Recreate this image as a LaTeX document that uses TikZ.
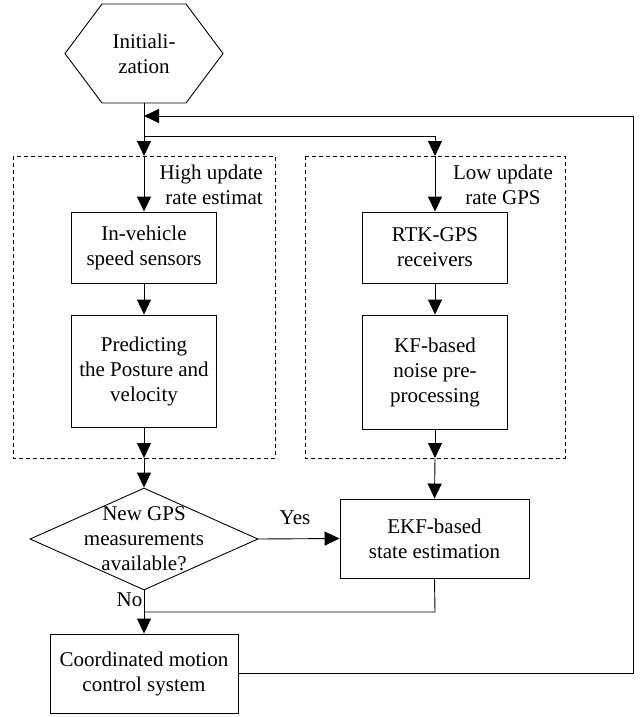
\documentclass[tikz,border=0pt]{standalone}
\usepackage{fontspec}
\setmainfont{Liberation Serif}
\usetikzlibrary{arrows.meta,shapes.geometric}
\begin{document}
\begin{tikzpicture}[x=1pt,y=-1pt,
  every node/.style={font=\fontsize{21}{25}\selectfont, inner sep=0pt, align=center},
  ln/.style={line width=0.9pt},
  box/.style={draw, ln, minimum width=145pt},
  arr/.style={ln, -{Triangle[length=15pt,width=14pt]}},
  dbox/.style={draw, line width=0.8pt, dash pattern=on 4pt off 3pt}]
\useasboundingbox (0,0) rectangle (641,717);

% initialization hexagon
\draw[ln] (65,53.5) -- (102,4) -- (186,4) -- (223,53.5) -- (186,103) -- (102,103) -- cycle;
\node (init) at (144,54) {Initiali-\\zation};
\coordinate (initB) at (144,103);

% dashed groups
\draw[dbox] (13,156) rectangle (275,458);
\draw[dbox] (305,156) rectangle (565,458);
\node[anchor=east, align=right] (hlab) at (263,184.5) {High update\\rate estimat};
\node (llab) at (503,184.5) {Low update\\rate GPS};

% junction coordinates
\coordinate (fb) at (144,116);
\coordinate (split) at (144,136);
\coordinate (topL) at (144,156);
\coordinate (topR) at (435,156);
\coordinate (botL) at (144,458);
\coordinate (botR) at (435,458);
\coordinate (mergeR) at (435,612);
\coordinate (mergeL) at (144,612);
\coordinate (fbR) at (633,116);

% boxes
\node[box, minimum height=71pt] (inv) at (144,247.5) {In-vehicle\\speed sensors};
\node[box, minimum height=112pt] (pred) at (144,371) {Predicting\\the Posture and\\velocity};
\node[box, minimum height=71pt] (rtk) at (435,247.5) {RTK-GPS\\receivers};
\node[box, minimum height=114pt] (kf) at (435,372) {KF-based\\noise pre-\\processing};
\node[box, minimum width=189pt, minimum height=79pt] (ekf) at (434.5,538.5) {EKF-based\\state estimation};
\node[box, minimum width=188pt, minimum height=79pt] (ctrl) at (144,673.5) {Coordinated motion\\control system};

% decision
\node[draw, ln, diamond, minimum width=228pt, minimum height=102pt] (dec) at (144,539) {};
\node (dectext) at (144,539) {New GPS\\measurements\\available?};
\node (yes) at (295,518) {Yes};
\node (no) at (129.5,600) {No};

% connectors
\draw[arr] (initB) -- (topL);
\draw[arr] (split) -| (topR);
\draw[arr] (topL) -- (inv.north);
\draw[arr] (inv.south) -- (pred.north);
\draw[arr] (pred.south) -- (botL);
\draw[arr] (botL) -- (dec.north);
\draw[arr] (topR) -- (rtk.north);
\draw[arr] (rtk.south) -- (kf.north);
\draw[arr] (kf.south) -- (botR);
\draw[arr] (botR) -- (ekf.north);
\draw[arr] (dec.east) -- (ekf.west);
\draw[ln] (ekf.south) -- (mergeR) -- (mergeL);
\draw[arr] (dec.south) -- (ctrl.north);
\draw[arr] (ctrl.east) -| (fbR) -- (fb);
\end{tikzpicture}
\end{document}
